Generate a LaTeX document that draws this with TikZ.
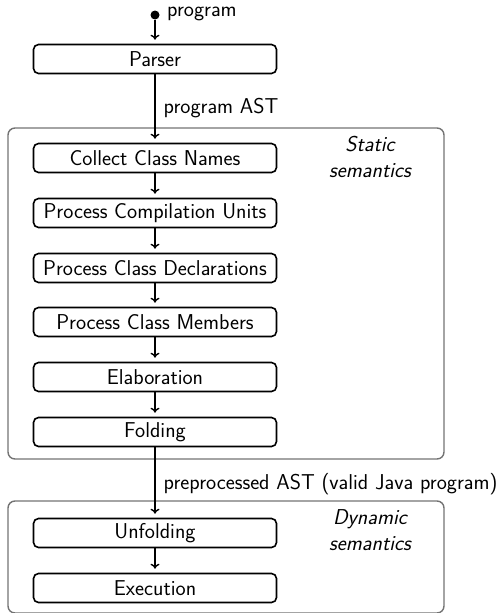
\documentclass[tikz,border=0pt]{standalone}
\usetikzlibrary{arrows.meta}
\begin{document}
\begin{tikzpicture}[x=1pt,y=-1pt,
  font=\fontsize{21.5}{26}\selectfont\sffamily,
  stage/.style={draw, line width=1.6pt, rounded corners=5pt, minimum width=243pt, minimum height=29pt, inner sep=0pt},
  group/.style={draw=black!55, line width=1.4pt, rounded corners=7pt, inner sep=0pt},
  flow/.style={line width=1.4pt, -{To[length=5pt,width=9pt]}, shorten >=4pt},
  flowlabel/.style={inner sep=0pt},
  grouplabel/.style={font=\fontsize{21.5}{26}\selectfont\sffamily\itshape, align=center}]
\useasboundingbox (0,0) rectangle (498,613);
% containers
\node[group, minimum width=436pt, minimum height=331pt] (static) at (226,293.5) {};
\node[group, minimum width=436pt, minimum height=112pt] (dynamic) at (226,557) {};
\node[grouplabel] (staticlbl) at (370,157) {Static\\semantics};
\node[grouplabel] (dynamiclbl) at (370,530) {Dynamic\\semantics};
% start
\node[circle, fill, inner sep=0pt, minimum size=9pt] (start) at (155,15) {};
\node[flowlabel, anchor=west] (startlbl) at (167,14) {program};
% stages
\node[stage] (parser) at (155,59) {Parser};
\node[stage] (collect) at (155,158) {Collect Class Names};
\node[stage] (units) at (155,213) {Process Compilation Units};
\node[stage] (decls) at (155,268) {Process Class Declarations};
\node[stage] (members) at (155,322) {Process Class Members};
\node[stage] (elab) at (155,377) {Elaboration};
\node[stage] (fold) at (155,432) {Folding};
\node[stage] (unfold) at (155,533) {Unfolding};
\node[stage] (exec) at (155,588) {Execution};
% connectors
\draw[flow] (start) -- (parser);
\draw[flow] (parser) -- node[flowlabel, right, xshift=8pt] {program AST} (collect);
\draw[flow] (collect) -- (units);
\draw[flow] (units) -- (decls);
\draw[flow] (decls) -- (members);
\draw[flow] (members) -- (elab);
\draw[flow] (elab) -- (fold);
\draw[flow] (fold) -- node[flowlabel, right, xshift=8pt, yshift=-2pt] {preprocessed AST (valid Java program)} (unfold);
\draw[flow] (unfold) -- (exec);
\end{tikzpicture}
\end{document}
